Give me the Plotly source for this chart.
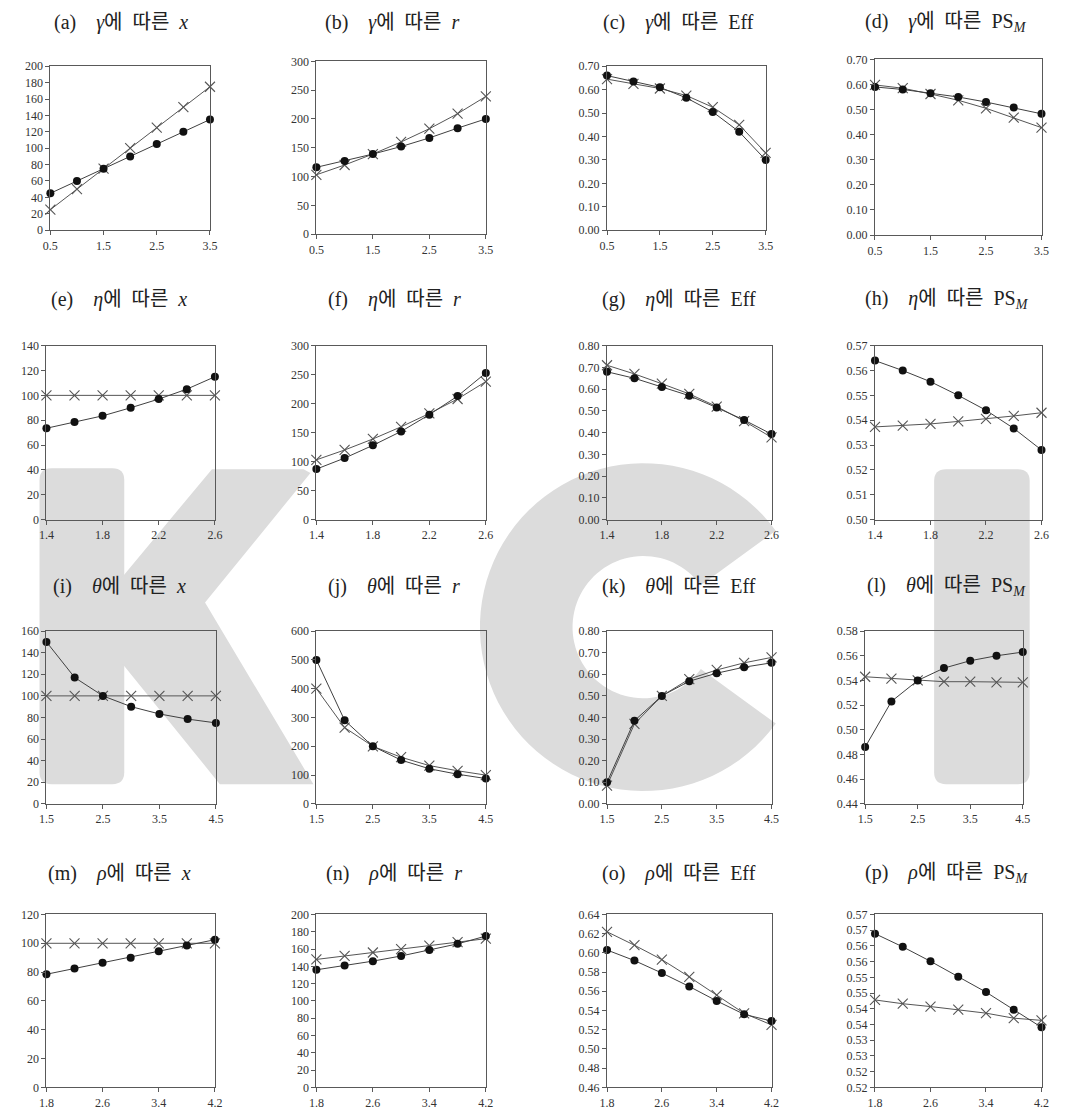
import numpy as np
import plotly.graph_objects as go

W, H = 1083, 1118

# ---------------- data ----------------
gamma_vals = [0.5, 1.0, 1.5, 2.0, 2.5, 3.0, 3.5]
eta_vals = [1.4, 1.6, 1.8, 2.0, 2.2, 2.4, 2.6]
theta_vals = [1.5, 2.0, 2.5, 3.0, 3.5, 4.0, 4.5]
rho_vals = [1.8, 2.2, 2.6, 3.0, 3.4, 3.8, 4.2]

gamma_ticks = [0.5, 1.5, 2.5, 3.5]
eta_ticks = [1.4, 1.8, 2.2, 2.6]
theta_ticks = [1.5, 2.5, 3.5, 4.5]
rho_ticks = [1.8, 2.6, 3.4, 4.2]

# (a)-(d): gamma
a_dot = [45, 60, 75, 90, 105, 120, 135]
a_cross = [25, 50, 75, 100, 125, 150, 175]
b_dot = [116, 127, 139, 152, 167, 184, 200]
b_cross = [103, 120, 139, 160, 183, 209, 239]
c_dot = [0.66, 0.635, 0.61, 0.565, 0.505, 0.42, 0.30]
c_cross = [0.645, 0.625, 0.605, 0.575, 0.525, 0.45, 0.33]
d_dot = [0.590, 0.580, 0.565, 0.550, 0.530, 0.508, 0.483]
d_cross = [0.598, 0.585, 0.562, 0.537, 0.505, 0.468, 0.428]

# (e)-(h): eta
e_dot = [73.5, 78.5, 83.5, 90, 97, 105, 115]
e_cross = [100, 100, 100, 100, 100, 100, 100]
f_dot = [87, 106, 128, 152, 181, 213, 253]
f_cross = [103, 120, 139, 160, 183, 208, 238]
g_dot = [0.68, 0.65, 0.61, 0.57, 0.515, 0.458, 0.393]
g_cross = [0.71, 0.67, 0.625, 0.578, 0.52, 0.453, 0.378]
h_dot = [0.564, 0.560, 0.5555, 0.550, 0.544, 0.5367, 0.528]
h_cross = [0.5373, 0.5378, 0.5385, 0.5395, 0.5405, 0.5417, 0.5430]

# (i)-(l): theta
i_dot = [150, 117, 100, 90, 83.3, 78.5, 75]
i_cross = [100, 100, 100, 100, 100, 100, 100]
j_dot = [500, 290, 200, 152, 122, 103, 88]
j_cross = [400, 265, 200, 162, 133, 115, 100]
k_dot = [0.10, 0.385, 0.50, 0.568, 0.605, 0.633, 0.653]
k_cross = [0.085, 0.37, 0.50, 0.578, 0.62, 0.653, 0.678]
l_dot = [0.486, 0.523, 0.540, 0.550, 0.556, 0.560, 0.563]
l_cross = [0.543, 0.5415, 0.540, 0.539, 0.539, 0.5385, 0.5385]

# (m)-(p): rho
m_dot = [78.5, 82.5, 86.5, 90, 94.5, 98.5, 102.5]
m_cross = [100, 100, 100, 100, 100, 100, 100]
n_dot = [136, 141, 146, 152, 159, 166, 175]
n_cross = [148, 152, 156, 160, 164, 168, 172]
o_dot = [0.603, 0.592, 0.579, 0.565, 0.550, 0.536, 0.529]
o_cross = [0.622, 0.608, 0.593, 0.575, 0.556, 0.537, 0.525]
p_dot = [0.5639, 0.5597, 0.5551, 0.5502, 0.5453, 0.5397, 0.5341]
p_cross = [0.5428, 0.5416, 0.5407, 0.5397, 0.5386, 0.5370, 0.5363]

p_ytick_vals = [0.515, 0.520, 0.525, 0.530, 0.535, 0.540, 0.545, 0.550, 0.555, 0.560, 0.565, 0.570]
p_ytick_text = ["0.52", "0.52", "0.53", "0.53", "0.54", "0.54", "0.55", "0.55", "0.56", "0.56", "0.57", "0.57"]

S = "\u00a0\u00a0"
L = "\u00a0\u00a0\u00a0\u00a0"
titles = [
    f"(a){L}<i>γ</i>에{S}따른{S}<i>x</i>", f"(b){L}<i>γ</i>에{S}따른{S}<i>r</i>",
    f"(c){L}<i>γ</i>에{S}따른{S}Eff", f"(d){L}<i>γ</i>에{S}따른{S}PS<sub><i>M</i></sub>",
    f"(e){L}<i>η</i>에{S}따른{S}<i>x</i>", f"(f){L}<i>η</i>에{S}따른{S}<i>r</i>",
    f"(g){L}<i>η</i>에{S}따른{S}Eff", f"(h){L}<i>η</i>에{S}따른{S}PS<sub><i>M</i></sub>",
    f"(i){L}<i>θ</i>에{S}따른{S}<i>x</i>", f"(j){L}<i>θ</i>에{S}따른{S}<i>r</i>",
    f"(k){L}<i>θ</i>에{S}따른{S}Eff", f"(l){L}<i>θ</i>에{S}따른{S}PS<sub><i>M</i></sub>",
    f"(m){L}<i>ρ</i>에{S}따른{S}<i>x</i>", f"(n){L}<i>ρ</i>에{S}따른{S}<i>r</i>",
    f"(o){L}<i>ρ</i>에{S}따른{S}Eff", f"(p){L}<i>ρ</i>에{S}따른{S}PS<sub><i>M</i></sub>",
]

panels = [
    (gamma_vals, gamma_ticks, a_dot, a_cross, [0, 200], 20, "d"),
    (gamma_vals, gamma_ticks, b_dot, b_cross, [0, 300], 50, "d"),
    (gamma_vals, gamma_ticks, c_dot, c_cross, [0, 0.7], 0.1, ".2f"),
    (gamma_vals, gamma_ticks, d_dot, d_cross, [0, 0.7], 0.1, ".2f"),
    (eta_vals, eta_ticks, e_dot, e_cross, [0, 140], 20, "d"),
    (eta_vals, eta_ticks, f_dot, f_cross, [0, 300], 50, "d"),
    (eta_vals, eta_ticks, g_dot, g_cross, [0, 0.8], 0.1, ".2f"),
    (eta_vals, eta_ticks, h_dot, h_cross, [0.50, 0.57], 0.01, ".2f"),
    (theta_vals, theta_ticks, i_dot, i_cross, [0, 160], 20, "d"),
    (theta_vals, theta_ticks, j_dot, j_cross, [0, 600], 100, "d"),
    (theta_vals, theta_ticks, k_dot, k_cross, [0, 0.8], 0.1, ".2f"),
    (theta_vals, theta_ticks, l_dot, l_cross, [0.44, 0.58], 0.02, ".2f"),
    (rho_vals, rho_ticks, m_dot, m_cross, [0, 120], 20, "d"),
    (rho_vals, rho_ticks, n_dot, n_cross, [0, 200], 20, "d"),
    (rho_vals, rho_ticks, o_dot, o_cross, [0.46, 0.64], 0.02, ".2f"),
    (rho_vals, rho_ticks, p_dot, p_cross, [0.515, 0.570], None, None),
]

# ---------------- layout geometry (pixels) ----------------
boxes = [
    (43, 205, 60, 226), (313, 485, 55, 230), (608, 769, 60, 226), (880, 1049, 53, 231),
    (39, 210, 343, 519), (313, 485, 343, 519), (608, 775, 343, 519), (880, 1049, 343, 519),
    (39, 211, 632, 807), (313, 485, 632, 807), (608, 775, 632, 807), (870, 1030, 632, 807),
    (39, 210, 919, 1094), (313, 485, 919, 1094), (608, 775, 919, 1094), (880, 1049, 919, 1094),
]
title_pos = [
    (115, 16), (390, 16), (681, 16), (952, 16),
    (113, 296), (392, 296), (681, 296), (953, 296),
    (113, 587), (392, 587), (681, 587), (953, 587),
    (113, 877), (392, 877), (681, 877), (953, 877),
]

SERIF = "'Liberation Serif', 'Times New Roman', 'Noto Sans CJK KR', serif"
AX = "#595959"

fig = go.Figure()
layout = dict(
    width=W, height=H, margin=dict(l=0, r=0, t=0, b=0),
    paper_bgcolor="white", plot_bgcolor="rgba(0,0,0,0)",
    showlegend=False, font=dict(family=SERIF, color="#222"),
    annotations=[], shapes=[],
)

for idx, (xv, xt, dot, cross, yr, dt, fmt) in enumerate(panels):
    n = "" if idx == 0 else str(idx + 1)
    xa, ya = "x" + n, "y" + n
    x0, x1, y0, y1 = boxes[idx]
    xaxis = dict(
        domain=[x0 / W, x1 / W], range=[xv[0], xv[-1]], anchor=ya,
        tickmode="array", tickvals=xt, ticktext=[f"{t:.1f}" for t in xt],
        ticks="outside", ticklen=4, tickcolor=AX, showline=True, linecolor=AX,
        linewidth=1, mirror=True, showgrid=False, zeroline=False,
        tickfont=dict(family=SERIF, size=12, color="#333"),
    )
    yaxis = dict(
        domain=[1 - y1 / H, 1 - y0 / H], range=yr, anchor=xa,
        ticks="outside", ticklen=4, tickcolor=AX, showline=True, linecolor=AX,
        linewidth=1, mirror=True, showgrid=False, zeroline=False,
        tickfont=dict(family=SERIF, size=12, color="#333"),
    )
    if dt is None:
        yaxis.update(tickmode="array", tickvals=p_ytick_vals, ticktext=p_ytick_text)
    else:
        yaxis.update(tick0=yr[0], dtick=dt, tickformat=fmt)
    layout["xaxis" + n] = xaxis
    layout["yaxis" + n] = yaxis

    fig.add_trace(go.Scatter(
        x=xv, y=cross, xaxis=xa, yaxis=ya, mode="lines+markers", cliponaxis=False,
        line=dict(color="#555555", width=1),
        marker=dict(symbol="x-thin", size=10, line=dict(width=1.1, color="#555555")),
    ))
    fig.add_trace(go.Scatter(
        x=xv, y=dot, xaxis=xa, yaxis=ya, mode="lines+markers", cliponaxis=False,
        line=dict(color="#404040", width=1),
        marker=dict(symbol="circle", size=8, color="#111111"),
    ))

    tx, ty = title_pos[idx]
    layout["annotations"].append(dict(
        text=titles[idx], x=tx / W, y=1 - ty / H, xref="paper", yref="paper",
        xanchor="center", yanchor="middle", showarrow=False,
        font=dict(family=SERIF, size=20, color="#222"),
    ))

# ---------------- KCI watermark ----------------
def P(x, y):
    return f"{x / W:.5f},{1 - y / H:.5f}"

def poly(pts):
    return "M" + " L".join(P(x, y) for x, y in pts) + " Z"

def rrect(x0, y0, x1, y1, r):
    return (f"M{P(x0 + r, y0)} L{P(x1 - r, y0)} Q{P(x1, y0)} {P(x1, y0 + r)} "
            f"L{P(x1, y1 - r)} Q{P(x1, y1)} {P(x1 - r, y1)} L{P(x0 + r, y1)} "
            f"Q{P(x0, y1)} {P(x0, y1 - r)} L{P(x0, y0 + r)} Q{P(x0, y0)} {P(x0 + r, y0)} Z")

WM = "#dcdcdc"
wm_paths = [
    rrect(32, 467, 118, 787, 12),
    poly([(112, 582), (207, 468), (300, 468), (307, 472), (200, 603),
          (310, 787), (215, 787), (112, 660)]),
    rrect(940, 468, 1037, 787, 12),
]
cx, cy, Ro, Ri = 645, 628, 166, 72
ang = np.radians(np.linspace(36, 324, 80))
outer = [(cx + Ro * np.cos(a), cy - Ro * np.sin(a)) for a in ang]
inner = [(cx + Ri * np.cos(a), cy - Ri * np.sin(a)) for a in ang[::-1]]
wm_paths.append(poly(outer + inner))

for pth in wm_paths:
    layout["shapes"].append(dict(
        type="path", path=pth, xref="paper", yref="paper", layer="below",
        fillcolor=WM, line=dict(width=0),
    ))

fig.update_layout(**layout)
fig.write_html("out.html", config={"displayModeBar": False},
               post_script="document.body.style.margin='0';")
